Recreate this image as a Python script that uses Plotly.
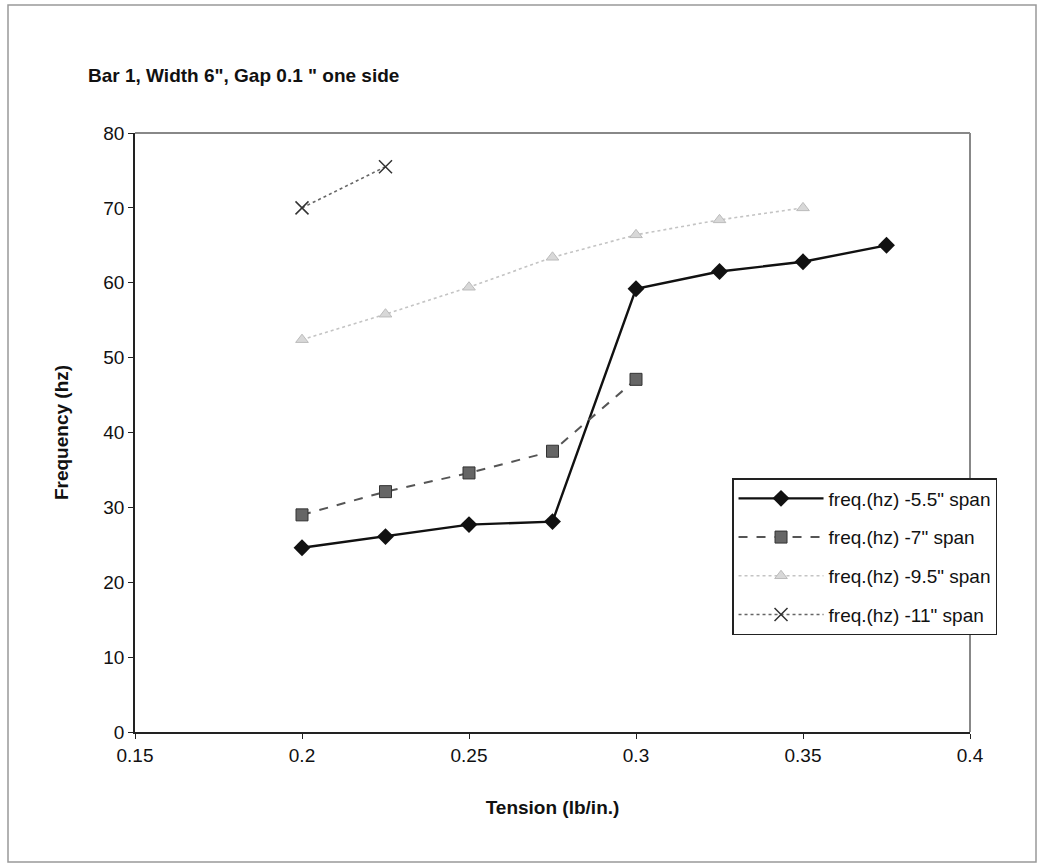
import plotly.graph_objects as go

tension_55 = [0.2, 0.225, 0.25, 0.275, 0.3, 0.325, 0.35, 0.375]
freq_55 = [24.6, 26.1, 27.7, 28.1, 59.2, 61.5, 62.8, 65.0]

tension_7 = [0.2, 0.225, 0.25, 0.275, 0.3]
freq_7 = [29.0, 32.1, 34.6, 37.5, 47.1]

tension_95 = [0.2, 0.225, 0.25, 0.275, 0.3, 0.325, 0.35]
freq_95 = [52.4, 55.8, 59.4, 63.4, 66.4, 68.4, 70.0]

tension_11 = [0.2, 0.225]
freq_11 = [70.0, 75.5]

names = ['freq.(hz) -5.5" span', 'freq.(hz) -7" span', 'freq.(hz) -9.5" span', 'freq.(hz) -11" span']

fig = go.Figure()
fig.add_trace(go.Scatter(x=tension_55, y=freq_55, name=names[0], mode="lines+markers",
                         legendgroup="a",
                         line=dict(color="#111111", width=2.4),
                         marker=dict(symbol="diamond", size=13, color="#111111")))
fig.add_trace(go.Scatter(x=tension_7, y=freq_7, name=names[1], mode="lines+markers",
                         legendgroup="b",
                         line=dict(color="#555555", width=2, dash="dash"),
                         marker=dict(symbol="square", size=12, color="#666666",
                                     line=dict(color="#333333", width=1))))
fig.add_trace(go.Scatter(x=tension_95, y=freq_95, name=names[2], mode="lines+markers",
                         legendgroup="c",
                         line=dict(color="#c4c4c4", width=1.6, dash="dot"),
                         marker=dict(symbol="triangle-up", size=11, color="#d8d8d8",
                                     line=dict(color="#bbbbbb", width=1))))
fig.add_trace(go.Scatter(x=tension_11, y=freq_11, name=names[3], mode="lines+markers",
                         legendgroup="d",
                         line=dict(color="#666666", width=1.6, dash="dot"),
                         marker=dict(symbol="x-thin", size=13, color="#333333",
                                     line=dict(color="#333333", width=1.5))))

fig.update_layout(
    width=1039, height=868,
    margin=dict(l=135, r=69, t=133, b=136),
    paper_bgcolor="white", plot_bgcolor="white",
    font=dict(family="Arial, Liberation Sans, sans-serif", color="#111111", size=19),
    title=dict(text='Bar 1, Width 6", Gap 0.1 " one side', x=88/1039, xanchor="left",
               y=1 - 75/868, yanchor="middle",
               font=dict(size=19, family="Arial, Liberation Sans, sans-serif", weight="bold")),
    showlegend=True,
    legend=dict(x=0.715, y=0.424, xanchor="left", yanchor="top",
                bordercolor="#222222", borderwidth=1.5, bgcolor="white",
                font=dict(size=19), itemwidth=85, tracegroupgap=11),
    xaxis=dict(range=[0.15, 0.4], tickvals=[0.15, 0.2, 0.25, 0.3, 0.35, 0.4],
               ticktext=["0.15", "0.2", "0.25", "0.3", "0.35", "0.4"],
               showgrid=False, zeroline=False, showline=True, linecolor="#222222", linewidth=1.5,
               ticks="outside", ticklen=5, tickcolor="#222222",
               title=dict(text="Tension (lb/in.)", standoff=36,
                          font=dict(size=19, weight="bold")),
               tickfont=dict(size=19)),
    yaxis=dict(range=[0, 80], tickvals=[0, 10, 20, 30, 40, 50, 60, 70, 80],
               showgrid=False, zeroline=False, showline=True, linecolor="#222222", linewidth=1.5,
               ticks="outside", ticklen=5, tickcolor="#222222",
               title=dict(text="Frequency (hz)", standoff=30,
                          font=dict(size=19, weight="bold")),
               tickfont=dict(size=19)),
    shapes=[
        dict(type="line", xref="paper", yref="paper", x0=0, x1=1, y0=1, y1=1,
             line=dict(color="#888888", width=2)),
        dict(type="line", xref="paper", yref="paper", x0=1, x1=1, y0=0, y1=1,
             line=dict(color="#888888", width=2)),
        dict(type="rect", xref="paper", yref="paper",
             x0=(8 - 135) / 835, x1=(1036 - 135) / 835,
             y0=(732 - 862) / 599, y1=(732 - 5) / 599,
             line=dict(color="#999999", width=1.5)),
    ],
)

fig.write_html("out.html")
